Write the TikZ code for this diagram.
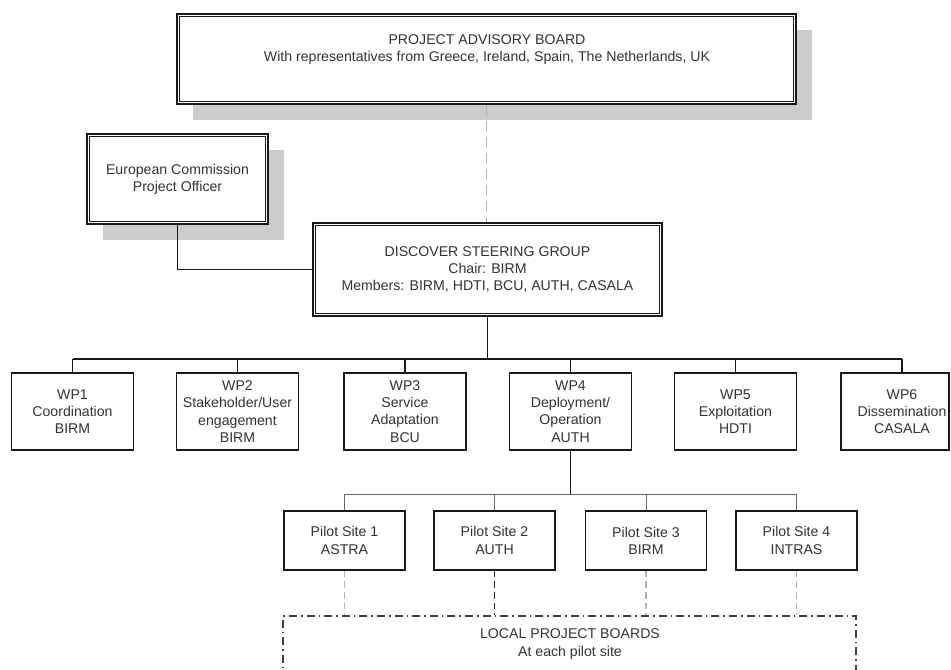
\documentclass[tikz,border=0pt]{standalone}
\usepackage{fontspec}
\setmainfont{Liberation Sans}
\usetikzlibrary{shadows}
\begin{document}
\begin{tikzpicture}[x=0.75pt,y=-0.75pt,
  txt/.style={align=center,text=black!80,font=\fontsize{10.6pt}{12.9pt}\selectfont,inner sep=0pt},
  box/.style={txt,draw=black!90,line width=1.1pt,fill=white},
  dblbox/.style={box,line width=1.4pt},
  shad/.style={drop shadow={shadow xshift=12pt,shadow yshift=-12pt,fill=black!20,opacity=1,draw=none}},
  wpbox/.style={box,minimum width=91.5pt,minimum height=57.75pt},
  pbox/.style={box,minimum width=90.75pt,minimum height=44.25pt},
  conn/.style={draw=black!90,line width=0.8pt},
  pconn/.style={draw=black!60,line width=0.7pt},
  greydash/.style={draw=black!30,line width=1.3pt,dash pattern=on 5pt off 3pt},
  darkdash/.style={draw=black!85,line width=1.1pt,dash pattern=on 5pt off 3pt},
  topdash/.style={draw=black!30,line width=1.1pt,dash pattern=on 8pt off 4pt},
  dashdot/.style={draw=black!75,line width=0.9pt,dash pattern=on 6pt off 3pt on 1.2pt off 3pt},
  inner/.style={draw=black!90,line width=0.6pt}
]
\useasboundingbox (0,0) rectangle (951,670);

% Project advisory board
\node[dblbox,shad,minimum width=464.25pt,minimum height=67.5pt] (pab) at (486.5,59) {};
\draw[inner] ([shift={(3.5,3.5)}]pab.north west) rectangle ([shift={(-3.5,-3.5)}]pab.south east);
\node[txt] (pabtext) at (487,49.5) {PROJECT ADVISORY BOARD\\With representatives from Greece, Ireland, Spain, The Netherlands, UK};

% European Commission
\node[dblbox,shad,minimum width=135.75pt,minimum height=67.5pt] (ec) at (177.5,179) {European Commission\\Project Officer};
\draw[inner] ([shift={(3.5,3.5)}]ec.north west) rectangle ([shift={(-3.5,-3.5)}]ec.south east);

% Steering group
\node[dblbox,minimum width=261.75pt,minimum height=69.75pt] (sg) at (487.5,269.5) {DISCOVER STEERING GROUP\\Chair: BIRM\\Members: BIRM, HDTI, BCU, AUTH, CASALA};
\draw[inner] ([shift={(3.5,3.5)}]sg.north west) rectangle ([shift={(-3.5,-3.5)}]sg.south east);

% Work packages
\node[wpbox] (wp1) at (72.5,411.5) {WP1\\Coordination\\BIRM};
\node[wpbox] (wp2) at (237.5,411.5) {WP2\\Stakeholder/User\\engagement\\BIRM};
\node[wpbox] (wp3) at (405,411.5) {WP3\\Service\\Adaptation\\BCU};
\node[wpbox] (wp4) at (570.5,411.5) {WP4\\Deployment/\\Operation\\AUTH};
\node[wpbox] (wp5) at (735.5,411.5) {WP5\\Exploitation\\HDTI};
\node[box,minimum width=81pt,minimum height=57.75pt] (wp6) at (895,411.5) {};
\node[txt] (wp6text) at (902,411.5) {WP6\\Dissemination\\CASALA};

% Pilot sites
\node[pbox] (p1) at (344.5,540.5) {Pilot Site 1\\ASTRA};
\node[pbox] (p2) at (494.5,540.5) {Pilot Site 2\\AUTH};
\node[pbox] (p3) at (646,540.5) {Pilot Site 3\\BIRM};
\node[pbox] (p4) at (796.5,540.5) {Pilot Site 4\\INTRAS};

% Local project boards
\node[dashdot,minimum width=429.75pt,minimum height=75pt,inner sep=0pt] (lpb) at (569.5,666) {};
\node[txt] (lpbtext) at (570,644) {LOCAL PROJECT BOARDS\\At each pilot site};

% Connectors
\draw[topdash] (pab.south) -- (pab.south |- sg.north);
\draw[conn] (ec.south) |- (sg.west);

\coordinate (wpbus) at (487.5,359);
\coordinate (wp6stub) at (902,359);
\draw[conn] (sg.south) -- (sg.south |- wpbus);
\draw[conn] (wp1.north |- wpbus) -- (wp6stub);
\foreach \w in {wp1,wp2,wp3,wp4,wp5}{
  \draw[conn] (\w.north) -- (\w.north |- wpbus);
}
\draw[conn] (wp6stub) -- (wp6stub |- wp6.north);

\coordinate (pbus) at (570.5,494);
\draw[conn] (wp4.south) -- (pbus);
\draw[pconn] (p1.north |- pbus) -- (p4.north |- pbus);
\foreach \p in {p1,p2,p3,p4}{
  \draw[pconn] (\p.north) -- (\p.north |- pbus);
}

\draw[greydash] (p1.south) -- (p1.south |- lpb.north);
\draw[darkdash] (p2.south) -- (p2.south |- lpb.north);
\draw[greydash] (p3.south) -- (p3.south |- lpb.north);
\draw[greydash] (p4.south) -- (p4.south |- lpb.north);
\end{tikzpicture}
\end{document}
